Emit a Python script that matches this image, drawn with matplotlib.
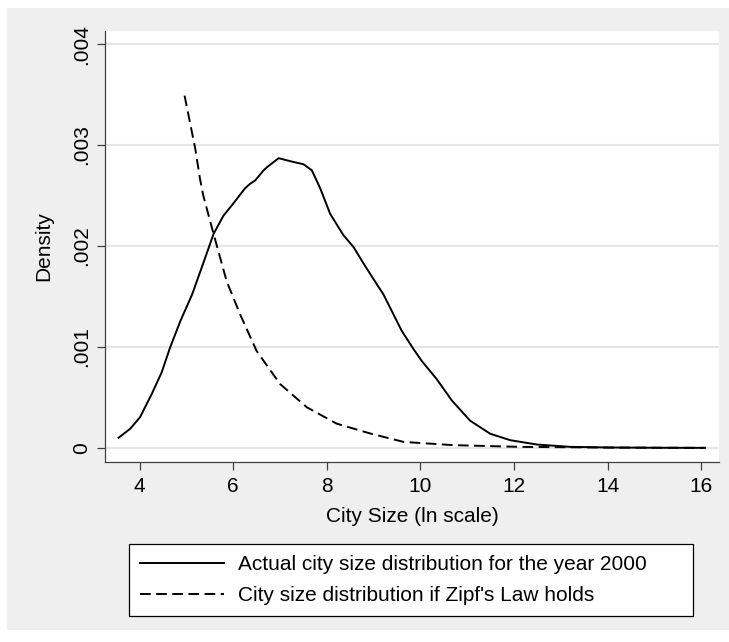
import matplotlib
matplotlib.use('Agg')
import matplotlib.pyplot as plt
from matplotlib.patches import Rectangle

plt.rcParams['font.family'] = ['Liberation Sans', 'DejaVu Sans']

# actual kernel density of ln city size (year 2000)
actual_x = [3.55, 3.8, 4.01, 4.26, 4.47, 4.65, 4.87, 5.12, 5.36, 5.58, 5.79, 6.00,
            6.25, 6.36, 6.47, 6.65, 6.72, 6.97, 7.22, 7.50, 7.68, 7.86, 8.07, 8.35,
            8.57, 8.78, 9.0, 9.21, 9.60, 9.85, 10.03, 10.35, 10.67, 11.06, 11.49,
            11.92, 12.49, 13.2, 14.0, 15.0, 16.08]
actual_y = [0.0001, 0.00019, 0.000305, 0.000535, 0.000747, 0.000993, 0.001256,
            0.001518, 0.00183, 0.00212, 0.0023, 0.00242, 0.00257, 0.002616, 0.00265,
            0.00275, 0.00278, 0.00287, 0.00284, 0.00281, 0.00275, 0.00257, 0.00232,
            0.00211, 0.00199, 0.00183, 0.00167, 0.00152, 0.00116, 0.00098, 0.00086,
            0.00068, 0.00047, 0.00027, 0.00014, 0.000076, 0.000033, 0.00001,
            0.000004, 0.000001, 0.0]

# density implied by Zipf's law
zipf_x = [4.96, 5.19, 5.29, 5.36, 5.58, 5.86, 6.15, 6.50, 7.00, 7.57, 8.21, 8.93,
          9.64, 10.7, 12.13, 14.0, 16.08]
zipf_y = [0.00349, 0.00296, 0.002665, 0.0025, 0.00212, 0.00165, 0.00132, 0.00096,
          0.000633, 0.000403, 0.00024, 0.000142, 0.000059, 0.000027, 0.00001,
          0.000003, 0.0]

x_ticks = [4, 6, 8, 10, 12, 14, 16]
y_ticks = [0, 0.001, 0.002, 0.003, 0.004]
y_tick_labels = ['0', '.001', '.002', '.003', '.004']

label_actual = 'Actual city size distribution for the year 2000'
label_zipf = "City size distribution if Zipf's Law holds"

W, H = 729, 642
fig = plt.figure(figsize=(W / 100, H / 100), dpi=100, facecolor='white')
fig.patches.append(Rectangle((7 / W, 1 - 630 / H), 1 - 7 / W, (630 - 8) / H,
                             transform=fig.transFigure, facecolor='#efefef',
                             edgecolor='none', zorder=-5))

ax = fig.add_axes([105 / W, 1 - 462 / H, 614 / W, 431 / H])
ax.set_zorder(2)
ax.set_facecolor('white')

ax.plot(actual_x, actual_y, color='black', lw=1.4, label=label_actual)
ax.plot(zipf_x, zipf_y, color='black', lw=1.4, linestyle=(0, (5.5, 2.8)),
        label=label_zipf)

ax.set_xlim(3.26, 16.38)
ax.set_ylim(-0.00014, 0.00413)
ax.set_xticks(x_ticks)
ax.set_yticks(y_ticks)
ax.set_yticklabels(y_tick_labels, rotation=90, va='center')

ax.grid(axis='y', color='#e6e6e6', linewidth=1.5)
ax.set_axisbelow(True)
for s in ['top', 'right']:
    ax.spines[s].set_visible(False)
for s in ['left', 'bottom']:
    ax.spines[s].set_color('#404040')
    ax.spines[s].set_linewidth(0.9)

ax.tick_params(axis='both', labelsize=15, length=6, width=0.9, color='#404040')
ax.tick_params(axis='x', pad=4.5)
ax.tick_params(axis='y', pad=4)

ax.set_xlabel('City Size (ln scale)', fontsize=15)
ax.set_ylabel('Density', fontsize=15)
ax.xaxis.set_label_coords(0.5, -0.105)
ax.yaxis.set_label_coords(-0.085, 0.5)

leg = fig.legend(loc='upper left',
                 bbox_to_anchor=(129 / W, 1 - 616 / H, 564 / W, 72 / H),
                 mode='expand', borderaxespad=0, fontsize=15, frameon=True,
                 fancybox=False, edgecolor='black', facecolor='white',
                 framealpha=1, handlelength=4, handletextpad=0.7,
                 borderpad=0.55, labelspacing=0.55)
leg.set_zorder(3)
leg.get_frame().set_linewidth(0.9)

fig.savefig('out.png', dpi=100, facecolor=fig.get_facecolor())
